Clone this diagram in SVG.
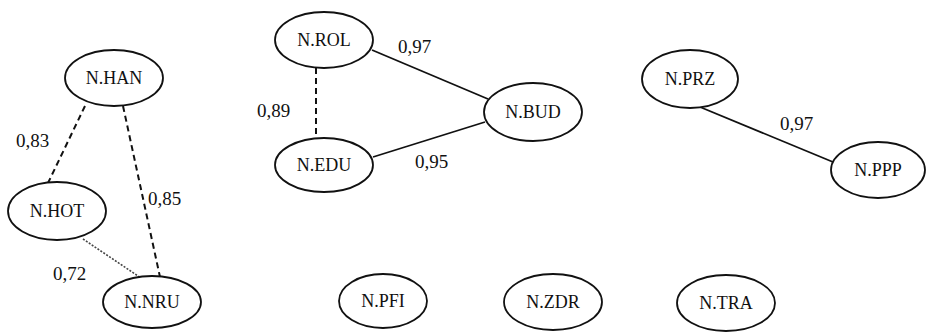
<svg xmlns="http://www.w3.org/2000/svg" width="926" height="334" viewBox="0 0 926 334">
<style>
.n ellipse{fill:#fff;stroke:#111;stroke-width:1.8}
.n text{font-family:"Liberation Serif","Times New Roman",serif;font-size:18px;fill:#111;text-anchor:middle}
.lbl{font-family:"Liberation Serif","Times New Roman",serif;font-size:19px;fill:#111}
.solid{stroke:#111;stroke-width:1.8;fill:none}
.dash{stroke:#111;stroke-width:2;stroke-dasharray:6 4;fill:none}
.dot{stroke:#444;stroke-width:1.6;stroke-dasharray:2 1.5;fill:none}
</style>
<rect width="926" height="334" fill="#fff"/>
<g id="connectors">
<line class="dash" x1="85" y1="106" x2="48" y2="183"/>
<line class="dash" x1="123" y1="106" x2="160" y2="277"/>
<line class="dot" x1="83" y1="239" x2="141" y2="278"/>
<line class="dash" x1="316" y1="68" x2="316" y2="138"/>
<line class="solid" x1="372" y1="50" x2="488" y2="99"/>
<line class="solid" x1="373" y1="157" x2="485" y2="122"/>
<line class="solid" x1="700" y1="107" x2="833" y2="162"/>
</g>
<g id="labels">
<text class="lbl" x="16" y="147">0,83</text>
<text class="lbl" x="148" y="205">0,85</text>
<text class="lbl" x="53" y="280">0,72</text>
<text class="lbl" x="257" y="117">0,89</text>
<text class="lbl" x="398" y="53">0,97</text>
<text class="lbl" x="415" y="168">0,95</text>
<text class="lbl" x="780" y="130">0,97</text>
</g>
<g id="N.HAN" class="n"><ellipse cx="114" cy="78" rx="49" ry="28"/><text x="114" y="84">N.HAN</text></g>
<g id="N.HOT" class="n"><ellipse cx="57" cy="211" rx="49" ry="29"/><text x="57" y="217">N.HOT</text></g>
<g id="N.NRU" class="n"><ellipse cx="152" cy="302" rx="49" ry="26"/><text x="152" y="308">N.NRU</text></g>
<g id="N.ROL" class="n"><ellipse cx="324" cy="40" rx="49" ry="28"/><text x="324" y="46">N.ROL</text></g>
<g id="N.EDU" class="n"><ellipse cx="324" cy="165" rx="49" ry="27"/><text x="324" y="171">N.EDU</text></g>
<g id="N.BUD" class="n"><ellipse cx="533" cy="112" rx="49" ry="29"/><text x="533" y="118">N.BUD</text></g>
<g id="N.PRZ" class="n"><ellipse cx="690" cy="79" rx="48" ry="29"/><text x="690" y="85">N.PRZ</text></g>
<g id="N.PPP" class="n"><ellipse cx="878" cy="170" rx="47" ry="28"/><text x="878" y="176">N.PPP</text></g>
<g id="N.PFI" class="n"><ellipse cx="383" cy="301" rx="44" ry="27"/><text x="383" y="307">N.PFI</text></g>
<g id="N.ZDR" class="n"><ellipse cx="553" cy="302" rx="49" ry="28"/><text x="553" y="308">N.ZDR</text></g>
<g id="N.TRA" class="n"><ellipse cx="726" cy="303" rx="49" ry="28"/><text x="726" y="309">N.TRA</text></g>
</svg>
